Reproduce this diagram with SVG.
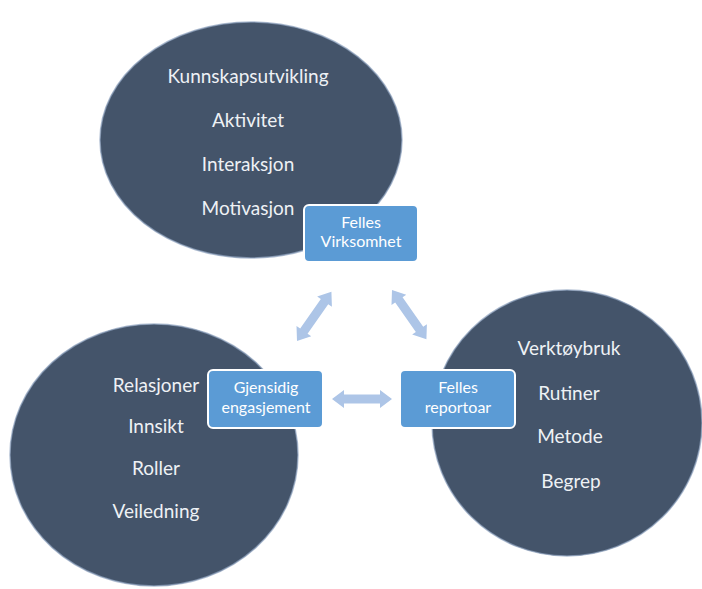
<svg xmlns="http://www.w3.org/2000/svg" width="702" height="589" viewBox="0 0 702 589">
<defs>
<style>
.circ{fill:#44546a;stroke:#8ea3bf;stroke-width:1.5;stroke-opacity:0.7}
.ct{font-family:Lato,"Open Sans","Liberation Sans",sans-serif;font-size:19px;fill:#eef1f5;text-anchor:middle}
.box{fill:#5b9bd5;stroke:#ffffff;stroke-width:2}
.bt{font-family:Lato,"Open Sans","Liberation Sans",sans-serif;font-size:16px;fill:#ffffff;text-anchor:middle}
.arr{fill:#adc5e7}
</style>
<path id="dbl" d="M0,0 L12,-9 L12,-4.5 L48,-4.5 L48,-9 L60,0 L48,9 L48,4.5 L12,4.5 L12,9 Z"/>
</defs>
<rect width="702" height="589" fill="#ffffff"/>
<g id="circle-top">
<ellipse class="circ" cx="251" cy="140" rx="151" ry="118"/>
<text class="ct" x="248" y="83">Kunnskapsutvikling</text>
<text class="ct" x="248" y="127">Aktivitet</text>
<text class="ct" x="248" y="171">Interaksjon</text>
<text class="ct" x="248" y="215">Motivasjon</text>
</g>
<g id="circle-left">
<ellipse class="circ" cx="154" cy="455" rx="144" ry="131"/>
<text class="ct" x="156" y="392">Relasjoner</text>
<text class="ct" x="156" y="433">Innsikt</text>
<text class="ct" x="156" y="475">Roller</text>
<text class="ct" x="156" y="518">Veiledning</text>
</g>
<g id="circle-right">
<ellipse class="circ" cx="567" cy="423" rx="135" ry="133"/>
<text class="ct" x="569" y="355">Verktøybruk</text>
<text class="ct" x="569" y="400">Rutiner</text>
<text class="ct" x="570" y="443">Metode</text>
<text class="ct" x="571" y="488">Begrep</text>
</g>
<g id="connectors" class="arr">
<use href="#dbl" transform="translate(297,341) rotate(-55)"/>
<use href="#dbl" transform="translate(392,290) rotate(55)"/>
<use href="#dbl" transform="translate(332,399)"/>
</g>
<g id="box-virksomhet">
<rect class="box" x="304" y="205" width="114" height="57" rx="5"/>
<text class="bt" x="361" y="228">Felles</text>
<text class="bt" x="361" y="247">Virksomhet</text>
</g>
<g id="box-engasjement">
<rect class="box" x="208" y="370" width="115" height="58" rx="5"/>
<text class="bt" x="266" y="393">Gjensidig</text>
<text class="bt" x="266" y="413">engasjement</text>
</g>
<g id="box-reportoar">
<rect class="box" x="400" y="370" width="115" height="58" rx="5"/>
<text class="bt" x="458" y="393">Felles</text>
<text class="bt" x="458" y="413">reportoar</text>
</g>
</svg>
